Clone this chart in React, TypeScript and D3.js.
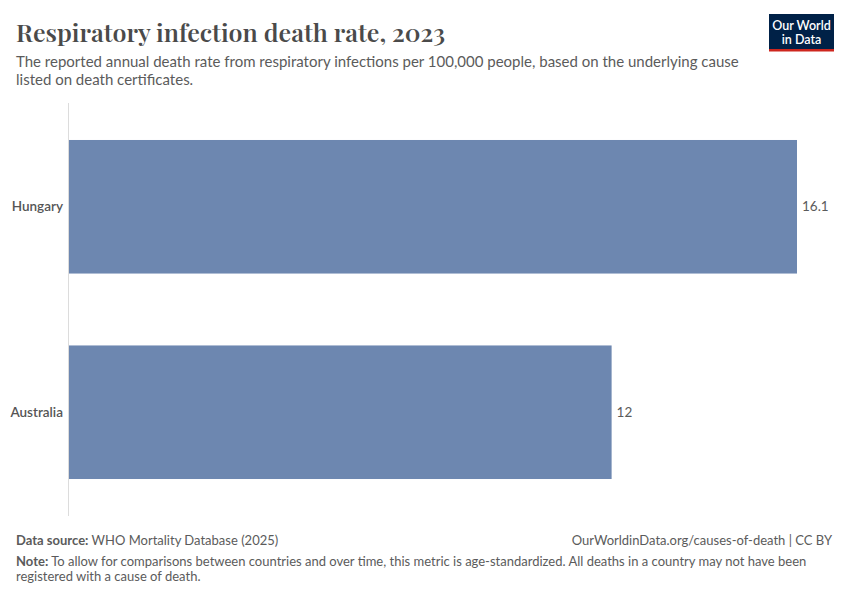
import * as d3 from 'd3';

const countries = ['Hungary', 'Australia'];
const values = [16.1, 12];

const W = 850;
const H = 600;

const App = () => {
  const margin = { top: 103, right: 53, bottom: 84, left: 69 };
  const x = d3
    .scaleLinear()
    .domain([0, d3.max(values) as number])
    .range([margin.left, W - margin.right]);
  const y = d3
    .scaleBand()
    .domain(countries)
    .range([margin.top, H - margin.bottom])
    .paddingInner(0.35)
    .paddingOuter(0.18);

  const grey = '#5b5b5b';
  const sans = 'Lato, "Noto Sans", sans-serif';

  return (
    <svg
      width={W}
      height={H}
      viewBox={`0 0 ${W} ${H}`}
      style={{ position: 'absolute', top: 0, left: 0, background: '#fff' }}
    >
      <text x={16} y={42} fontFamily='"Playfair Display", "DejaVu Serif", serif' fontSize={25} fontWeight={600} fill="#4a4a4a">
        Respiratory infection death rate, 2023
      </text>
      <text fontFamily={sans} fontSize={15} fill={grey}>
        <tspan x={16} y={67}>
          The reported annual death rate from respiratory infections per 100,000 people, based on the underlying cause
        </tspan>
        <tspan x={16} y={85}>listed on death certificates.</tspan>
      </text>

      {/* logo */}
      <rect x={769} y={14} width={65} height={36} fill="#002147" />
      <rect x={769} y={49} width={65} height={2.5} fill="#ce261e" />
      <text x={801.5} y={30} textAnchor="middle" fontFamily={sans} fontSize={12.5} fontWeight={600} fill="#fff">
        Our World
      </text>
      <text x={801.5} y={44} textAnchor="middle" fontFamily={sans} fontSize={12.5} fontWeight={600} fill="#fff">
        in Data
      </text>

      {/* axis line */}
      <line x1={68.5} x2={68.5} y1={margin.top} y2={H - margin.bottom} stroke="#dcdcdc" strokeWidth={1} />

      {countries.map((c, i) => {
        const yy = y(c) as number;
        const bw = y.bandwidth();
        return (
          <g key={c}>
            <rect x={x(0)} y={yy} width={x(values[i]) - x(0)} height={bw} fill="#6d87b0" />
            <text x={63} y={yy + bw / 2} dy="0.35em" textAnchor="end" fontFamily={sans} fontSize={13.5} fontWeight={600} fill="#555">
              {c}
            </text>
            <text x={x(values[i]) + 5} y={yy + bw / 2} dy="0.35em" fontFamily={sans} fontSize={13.5} fill={grey}>
              {d3.format('')(values[i])}
            </text>
          </g>
        );
      })}

      {/* footer */}
      <text x={16} y={545} fontFamily={sans} fontSize={13} fill={grey}>
        <tspan fontWeight={700}>Data source:</tspan> WHO Mortality Database (2025)
      </text>
      <text x={832} y={545} textAnchor="end" fontFamily={sans} fontSize={13} fill={grey}>
        OurWorldinData.org/causes-of-death | CC BY
      </text>
      <text fontFamily={sans} fontSize={13} fill={grey}>
        <tspan x={16} y={566}>
          <tspan fontWeight={700}>Note:</tspan> To allow for comparisons between countries and over time, this metric is age-standardized. All deaths in a country may not have been
        </tspan>
        <tspan x={16} y={581}>registered with a cause of death.</tspan>
      </text>
    </svg>
  );
};

export default App;
